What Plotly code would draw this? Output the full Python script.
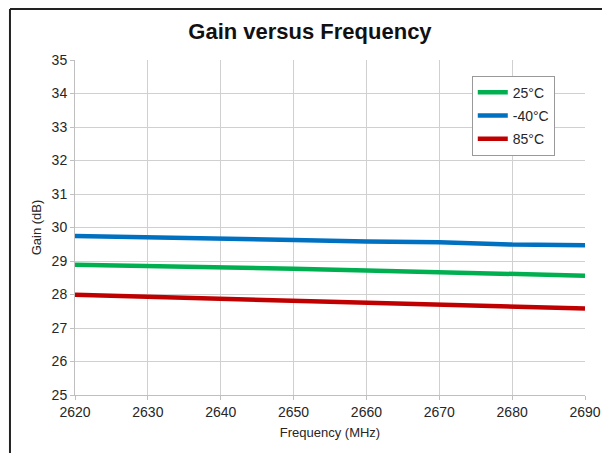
import plotly.graph_objects as go

freq = [2620, 2630, 2640, 2650, 2660, 2670, 2680, 2690]
gain_25 = [28.89, 28.86, 28.82, 28.77, 28.72, 28.67, 28.59, 28.56]
gain_m40 = [29.75, 29.72, 29.68, 29.63, 29.58, 29.56, 29.49, 29.47]
gain_85 = [27.99, 27.93, 27.89, 27.83, 27.77, 27.71, 27.62, 27.58]

series = [
    ("25°C", gain_25, "#00B050"),
    ("-40°C", gain_m40, "#0070C0"),
    ("85°C", gain_85, "#C00000"),
]

fig = go.Figure()
for name, vals, color in series:
    fig.add_trace(go.Scatter(x=freq, y=vals, name=name, mode="lines", legendgroup=name,
                             line=dict(color=color, width=4.5)))

axis_style = dict(showgrid=True, gridcolor="#d0d0d0", gridwidth=1,
                  showline=True, linecolor="#bfbfbf", linewidth=1,
                  ticks="outside", tickcolor="#bfbfbf", ticklen=4,
                  tickfont=dict(size=14, color="#262626"), zeroline=False)

fig.update_xaxes(range=[2620, 2690], dtick=10,
                 title=dict(text="Frequency (MHz)", font=dict(size=13, color="#262626"), standoff=9),
                 **axis_style)
fig.update_yaxes(range=[25, 35], dtick=1,
                 title=dict(text="Gain (dB)", font=dict(size=13, color="#262626"), standoff=7),
                 **axis_style)

# outer chart frame (cropped at right and bottom in the original)
fig.add_shape(type="line", xref="paper", yref="paper", x0=-0.1275, x1=-0.1275,
              y0=-0.3, y1=1.152, line=dict(color="#222", width=2))
fig.add_shape(type="line", xref="paper", yref="paper", x0=-0.1275, x1=1.2,
              y0=1.152, y1=1.152, line=dict(color="#222", width=2))

fig.update_layout(
    width=610, height=453,
    margin=dict(l=67, r=33, t=52, b=66),
    paper_bgcolor="white", plot_bgcolor="white",
    font=dict(family="Liberation Sans, Arial, sans-serif", color="#262626"),
    title=dict(text="<b>Gain versus Frequency</b>", x=0.495, xanchor="center",
               y=0.949, yanchor="middle", font=dict(size=22, color="#111")),
    legend=dict(x=0.778, y=0.953, xanchor="left", yanchor="top",
                bordercolor="#999", borderwidth=1, bgcolor="white",
                font=dict(size=14, color="#262626"), itemwidth=30,
                tracegroupgap=2),
)

fig.write_html("out.html")
